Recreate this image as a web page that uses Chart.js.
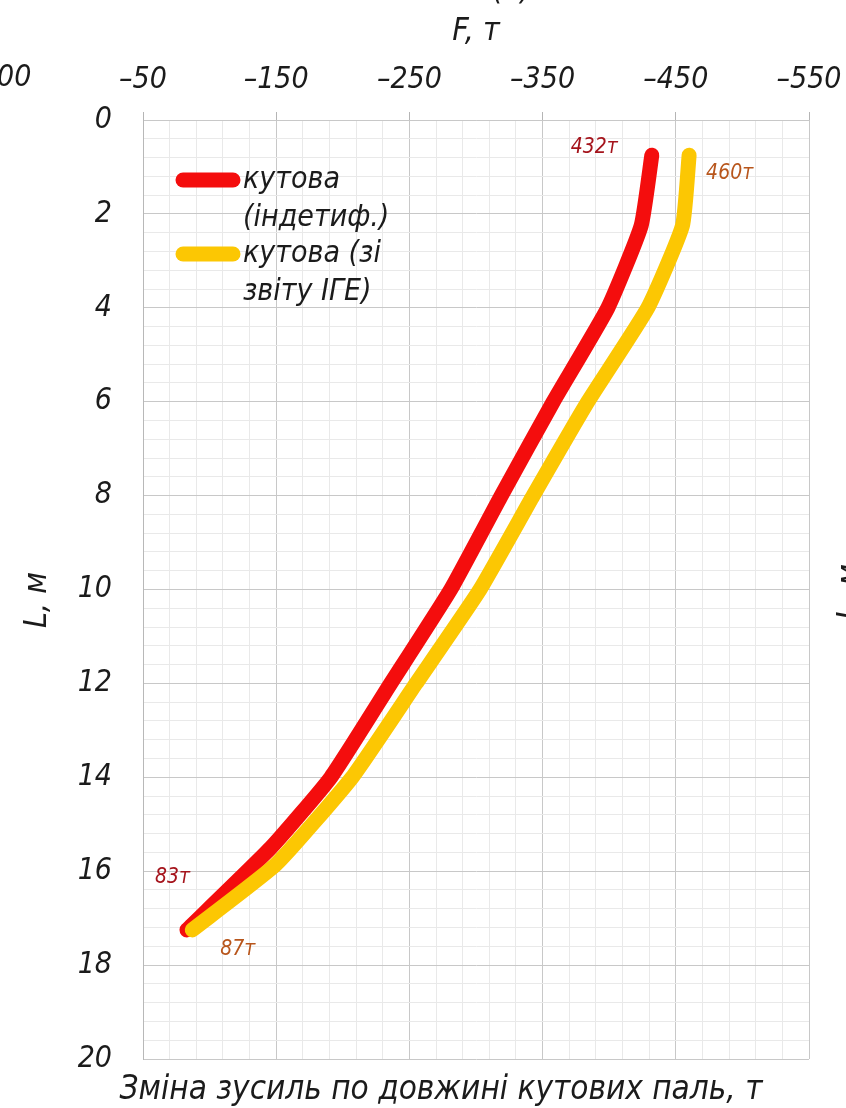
<!DOCTYPE html>
<html>
<head>
<meta charset="utf-8">
<script src="https://cdn.jsdelivr.net/npm/chart.js@4"></script>
<style>
  html, body { margin: 0; padding: 0; background: #fff; }
  #wrap { width: 846px; height: 1108px; position: relative; }
</style>
</head>
<body>
<div id="wrap"><canvas id="chart"></canvas></div>
<script>
// Depth along the pile (m) and axial force (t) for two corner-pile cases
const depthRed    = [0.75, 2.25, 4, 6, 8, 10, 12, 14, 15.5, 17.25];
const forceRed    = [-432, -424, -399, -358, -319, -281, -236, -191, -146, -83];
const depthYellow = [0.75, 2.25, 4, 6, 8, 10, 12, 14, 15.85, 17.25];
const forceYellow = [-460, -455, -429, -384, -343, -303, -255, -207, -150, -87];

const seriesNames = [["кутова", "(індетиф.)"], ["кутова (зі", "звіту ІГЕ)"]];
const forceTicks = [-50, -150, -250, -350, -450, -550];
const depthTicks = [0, 2, 4, 6, 8, 10, 12, 14, 16, 18, 20];

const FONT = '"Liberation Sans Narrow", "DejaVu Sans Condensed", "Liberation Sans", sans-serif';
const INK = '#1b1b1b';
const GRID_MAJOR = '#c8c8c8';
const GRID_MINOR = '#e9e9e9';

const fmtForce = v => (v < 0 ? '\u2013' + Math.abs(v) : String(v));
const isForceMajor = v => forceTicks.includes(v);
const isDepthMajor = v => depthTicks.some(t => Math.abs(t - v) < 1e-6);

function pairs(xs, ys) { return xs.map((x, i) => ({ x: x, y: ys[i] })); }

// Text layer: axis titles, legend and end-value labels
const annotations = {
  id: 'annotations',
  afterDraw(chart) {
    const ctx = chart.ctx;
    const xs = chart.scales.x, ys = chart.scales.y;
    const ca = chart.chartArea;
    ctx.save();
    ctx.fillStyle = INK;
    ctx.textBaseline = 'middle';

    // axis titles
    ctx.font = 'italic 32px ' + FONT;
    ctx.textAlign = 'center';
    ctx.fillText('F, т', (ca.left + ca.right) / 2, 32);
    ctx.fillText('палі (т)', (ca.left + ca.right) / 2, -9);
    ctx.save();
    ctx.translate(38, 600);
    ctx.rotate(-Math.PI / 2);
    ctx.fillText('L, м', 0, 0);
    ctx.restore();
    ctx.save();
    ctx.translate(851, 592);
    ctx.rotate(-Math.PI / 2);
    ctx.fillText('L, м', 0, 0);
    ctx.restore();
    ctx.textAlign = 'left';
    ctx.font = 'italic 30px ' + FONT;
    ctx.fillText('00', -3, 78);

    ctx.font = 'italic 33px ' + FONT;
    ctx.textAlign = 'center';
    ctx.fillText('Зміна зусиль по довжині кутових паль, т', 441, 1090);

    // legend
    const ds = chart.data.datasets;
    const legendRows = [180, 254];
    ds.forEach((d, i) => {
      const y = legendRows[i];
      ctx.strokeStyle = d.borderColor;
      ctx.lineWidth = 15;
      ctx.lineCap = 'round';
      ctx.beginPath();
      ctx.moveTo(183, y);
      ctx.lineTo(233, y);
      ctx.stroke();
      ctx.fillStyle = INK;
      ctx.font = 'italic 30px ' + FONT;
      ctx.textAlign = 'left';
      seriesNames[i].forEach((line, k) => ctx.fillText(line, 243, y + k * 38));
    });

    // end-value labels
    ctx.font = 'italic 21px ' + FONT;
    const label = (v, x, y, color, align) => {
      ctx.fillStyle = color;
      ctx.textAlign = align;
      ctx.fillText(Math.abs(v) + 'т', x, y);
    };
    const rTop = forceRed[0], rBot = forceRed[forceRed.length - 1];
    const yTop = forceYellow[0], yBot = forceYellow[forceYellow.length - 1];
    label(rTop, xs.getPixelForValue(rTop) - 34, ys.getPixelForValue(depthRed[0]) - 8, '#a5141c', 'right');
    label(yTop, xs.getPixelForValue(yTop) + 17, ys.getPixelForValue(depthYellow[0]) + 18, '#b8561c', 'left');
    label(rBot, xs.getPixelForValue(rBot) - 32, ys.getPixelForValue(depthRed[depthRed.length - 1]) - 52, '#a5141c', 'left');
    label(yBot, xs.getPixelForValue(yBot) + 28, ys.getPixelForValue(depthYellow[depthYellow.length - 1]) + 20, '#b8561c', 'left');
    ctx.restore();
  }
};

new Chart(document.getElementById('chart'), {
  type: 'line',
  data: {
    datasets: [
      {
        label: seriesNames[0].join(' '),
        data: pairs(forceRed, depthRed),
        borderColor: '#f40d0d',
        borderWidth: 15,
        borderCapStyle: 'round',
        borderJoinStyle: 'round',
        pointRadius: 0,
        tension: 0.15,
        fill: false,
        order: 2
      },
      {
        label: seriesNames[1].join(' '),
        data: pairs(forceYellow, depthYellow),
        borderColor: '#fcc703',
        borderWidth: 15,
        borderCapStyle: 'round',
        borderJoinStyle: 'round',
        pointRadius: 0,
        tension: 0.15,
        fill: false,
        order: 1
      }
    ]
  },
  options: {
    responsive: true,
    maintainAspectRatio: false,
    animation: false,
    layout: { padding: { left: 0, right: 37, top: 0, bottom: 43 } },
    plugins: { legend: { display: false }, tooltip: { enabled: false } },
    scales: {
      x: {
        type: 'linear',
        position: 'top',
        reverse: true,
        min: -550,
        max: -50,
        afterBuildTicks(s) {
          const t = [];
          for (let v = -550; v <= -50; v += 20) t.push({ value: v });
          s.ticks = t;
        },
        afterFit(s) { s.height = 120; },
        ticks: {
          autoSkip: false,
          maxRotation: 0,
          padding: 14,
          color: INK,
          font: { family: FONT, size: 30, style: 'italic' },
          callback: v => (isForceMajor(v) ? fmtForce(v) : '')
        },
        grid: {
          color: c => (isForceMajor(c.tick.value) ? GRID_MAJOR : GRID_MINOR),
          tickColor: c => (isForceMajor(c.tick.value) ? '#b5b5b5' : 'rgba(0,0,0,0)'),
          tickLength: 8,
          lineWidth: 1
        },
        border: { display: true, color: GRID_MAJOR }
      },
      y: {
        type: 'linear',
        position: 'left',
        reverse: true,
        min: 0,
        max: 20,
        afterBuildTicks(s) {
          const t = [];
          for (let i = 0; i <= 50; i++) t.push({ value: Math.round(i * 4) / 10 });
          s.ticks = t;
        },
        afterFit(s) { s.width = 143; },
        ticks: {
          autoSkip: false,
          padding: 31,
          color: INK,
          font: { family: FONT, size: 30, style: 'italic' },
          callback: v => (isDepthMajor(v) ? String(Math.round(v)) : '')
        },
        grid: {
          color: c => (isDepthMajor(c.tick.value) ? GRID_MAJOR : GRID_MINOR),
          drawTicks: false,
          lineWidth: 1
        },
        border: { display: true, color: '#b8b8b8' }
      }
    }
  },
  plugins: [annotations]
});
</script>
</body>
</html>
